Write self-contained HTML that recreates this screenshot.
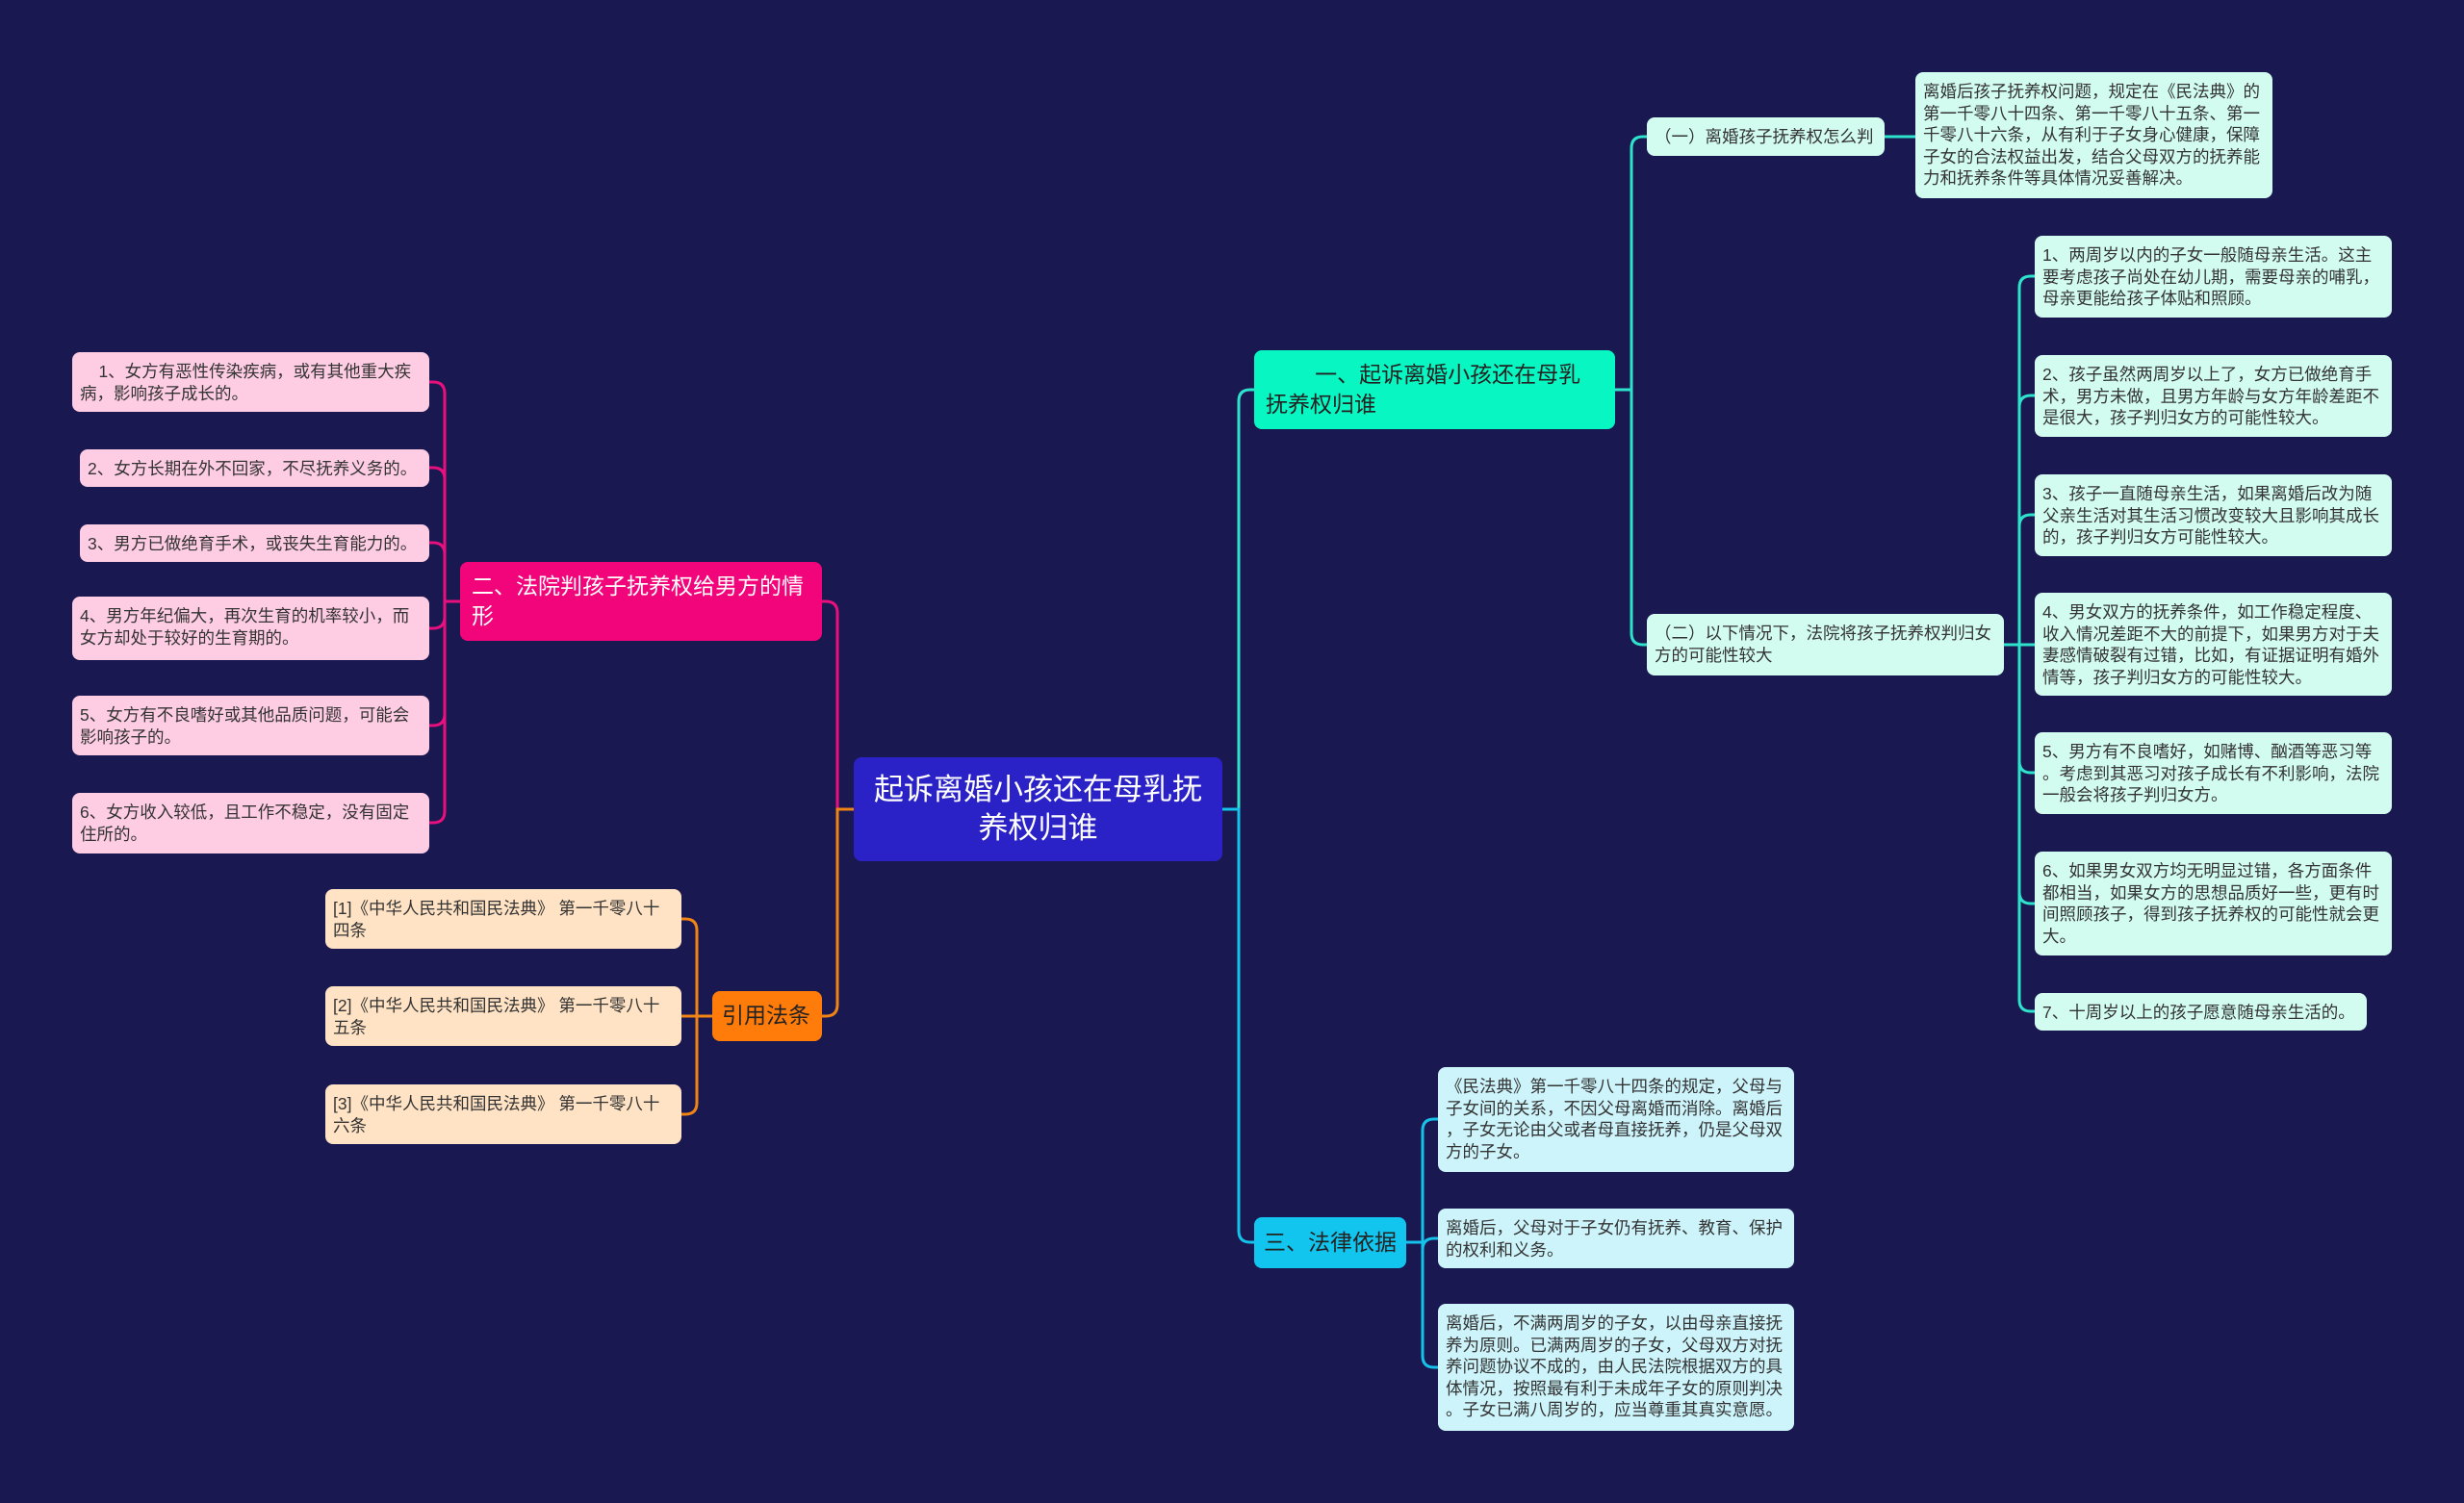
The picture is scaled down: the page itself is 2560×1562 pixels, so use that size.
<!DOCTYPE html>
<html><head><meta charset="utf-8">
<style>
body{margin:0;width:2560px;height:1562px;background:#1a1851;overflow:hidden;position:relative;font-family:"Liberation Sans","Noto Sans CJK SC",sans-serif;}
.n{position:absolute;box-sizing:border-box;border-radius:8px;font-size:17.5px;line-height:22.5px;padding:9px 8px;color:#333;white-space:nowrap;}
.m{background:#d3fcf1;}
.c{background:#cdf4fb;}
.p{background:#ffcde3;}
.o{background:#ffe3c4;}
svg{position:absolute;left:0;top:0;}
</style></head><body>
<svg width="2560" height="1562" id="s"></svg>

<div class="n" style="left:887px;top:787px;width:383px;height:108px;background:#2a22c6;color:#fff;font-size:31px;line-height:40px;text-align:center;padding:14px 6px;">起诉离婚小孩还在母乳抚<br>养权归谁</div>

<div class="n" style="left:1303px;top:364px;width:375px;height:82px;background:#08f7c2;color:#222;font-size:23px;line-height:31px;padding:10px 12px;">&nbsp;&nbsp;&nbsp;&nbsp;&nbsp;&nbsp;&nbsp;&nbsp;一、起诉离婚小孩还在母乳<br>抚养权归谁</div>

<div class="n m" style="left:1711px;top:122px;width:247px;height:40px;">（一）离婚孩子抚养权怎么判</div>
<div class="n m" style="left:1990px;top:75px;width:371px;height:131px;">离婚后孩子抚养权问题，规定在《民法典》的<br>第一千零八十四条、第一千零八十五条、第一<br>千零八十六条，从有利于子女身心健康，保障<br>子女的合法权益出发，结合父母双方的抚养能<br>力和抚养条件等具体情况妥善解决。</div>

<div class="n m" style="left:1711px;top:638px;width:371px;height:64px;">（二）以下情况下，法院将孩子抚养权判归女<br>方的可能性较大</div>

<div class="n m" style="left:2114px;top:245px;width:371px;height:85px;">1、两周岁以内的子女一般随母亲生活。这主<br>要考虑孩子尚处在幼儿期，需要母亲的哺乳，<br>母亲更能给孩子体贴和照顾。</div>
<div class="n m" style="left:2114px;top:369px;width:371px;height:85px;">2、孩子虽然两周岁以上了，女方已做绝育手<br>术，男方未做，且男方年龄与女方年龄差距不<br>是很大，孩子判归女方的可能性较大。</div>
<div class="n m" style="left:2114px;top:493px;width:371px;height:85px;">3、孩子一直随母亲生活，如果离婚后改为随<br>父亲生活对其生活习惯改变较大且影响其成长<br>的，孩子判归女方可能性较大。</div>
<div class="n m" style="left:2114px;top:616px;width:371px;height:107px;">4、男女双方的抚养条件，如工作稳定程度、<br>收入情况差距不大的前提下，如果男方对于夫<br>妻感情破裂有过错，比如，有证据证明有婚外<br>情等，孩子判归女方的可能性较大。</div>
<div class="n m" style="left:2114px;top:761px;width:371px;height:85px;">5、男方有不良嗜好，如赌博、酗酒等恶习等<br>。考虑到其恶习对孩子成长有不利影响，法院<br>一般会将孩子判归女方。</div>
<div class="n m" style="left:2114px;top:885px;width:371px;height:108px;">6、如果男女双方均无明显过错，各方面条件<br>都相当，如果女方的思想品质好一些，更有时<br>间照顾孩子，得到孩子抚养权的可能性就会更<br>大。</div>
<div class="n m" style="left:2114px;top:1032px;width:345px;height:39px;">7、十周岁以上的孩子愿意随母亲生活的。</div>

<div class="n" style="left:1303px;top:1265px;width:158px;height:53px;background:#12c5ef;color:#222;font-size:23px;line-height:31px;padding:11px 10px;">三、法律依据</div>
<div class="n c" style="left:1494px;top:1109px;width:370px;height:109px;">《民法典》第一千零八十四条的规定，父母与<br>子女间的关系，不因父母离婚而消除。离婚后<br>，子女无论由父或者母直接抚养，仍是父母双<br>方的子女。</div>
<div class="n c" style="left:1494px;top:1256px;width:370px;height:62px;">离婚后，父母对于子女仍有抚养、教育、保护<br>的权利和义务。</div>
<div class="n c" style="left:1494px;top:1355px;width:370px;height:132px;">离婚后，不满两周岁的子女，以由母亲直接抚<br>养为原则。已满两周岁的子女，父母双方对抚<br>养问题协议不成的，由人民法院根据双方的具<br>体情况，按照最有利于未成年子女的原则判决<br>。子女已满八周岁的，应当尊重其真实意愿。</div>

<div class="n" style="left:478px;top:584px;width:376px;height:82px;background:#f2047a;color:#fff;font-size:23px;line-height:31px;padding:10px 12px;">二、法院判孩子抚养权给男方的情<br>形</div>
<div class="n p" style="left:75px;top:366px;width:371px;height:62px;">&nbsp;&nbsp;&nbsp;&nbsp;1、女方有恶性传染疾病，或有其他重大疾<br>病，影响孩子成长的。</div>
<div class="n p" style="left:83px;top:467px;width:363px;height:39px;">2、女方长期在外不回家，不尽抚养义务的。</div>
<div class="n p" style="left:83px;top:545px;width:363px;height:39px;">3、男方已做绝育手术，或丧失生育能力的。</div>
<div class="n p" style="left:75px;top:620px;width:371px;height:66px;">4、男方年纪偏大，再次生育的机率较小，而<br>女方却处于较好的生育期的。</div>
<div class="n p" style="left:75px;top:723px;width:371px;height:62px;">5、女方有不良嗜好或其他品质问题，可能会<br>影响孩子的。</div>
<div class="n p" style="left:75px;top:824px;width:371px;height:63px;">6、女方收入较低，且工作不稳定，没有固定<br>住所的。</div>

<div class="n" style="left:740px;top:1030px;width:114px;height:52px;background:#ff7c0a;color:#222;font-size:23px;line-height:31px;padding:10px 10px;">引用法条</div>
<div class="n o" style="left:338px;top:924px;width:370px;height:62px;">[1]《中华人民共和国民法典》 第一千零八十<br>四条</div>
<div class="n o" style="left:338px;top:1025px;width:370px;height:62px;">[2]《中华人民共和国民法典》 第一千零八十<br>五条</div>
<div class="n o" style="left:338px;top:1127px;width:370px;height:62px;">[3]《中华人民共和国民法典》 第一千零八十<br>六条</div>

<script>
var s=document.getElementById('s'),h='';
function L(px,py,vx,cx,cy,col){var r=12,d;
 if(Math.abs(cy-py)<2){d='M'+px+' '+py+' H'+cx;}
 else{var sg=cy>py?1:-1,dir=cx>vx?1:-1;
 d='M'+px+' '+py+' H'+vx+' V'+(cy-sg*r)+' Q'+vx+' '+cy+' '+(vx+dir*r)+' '+cy+' H'+cx;}
 h+='<path d="'+d+'" fill="none" stroke="'+col+'" stroke-width="3"/>';}
L(1270,841,1287,1303,405,'#2ee3cb');
L(1270,841,1287,1303,1291,'#14c2ea');
L(1678,405,1695,1711,142,'#2ee3cb');
L(1678,405,1695,1711,670,'#2ee3cb');
L(1958,142,1975,1990,142,'#2ee3cb');
[287,411,535,670,803,939,1051].forEach(function(y){L(2082,670,2098,2114,y,'#2ee3cb');});
[1163,1287,1421].forEach(function(y){L(1461,1291,1478,1494,y,'#14c2ea');});
L(887,841,870,854,625,'#e8107c');
L(887,841,870,854,1056,'#f08414');
[397,486,564,653,754,855].forEach(function(y){L(478,625,462,446,y,'#e8107c');});
[955,1056,1158].forEach(function(y){L(740,1056,724,708,y,'#f08414');});
s.innerHTML=h;
</script>
</body></html>
